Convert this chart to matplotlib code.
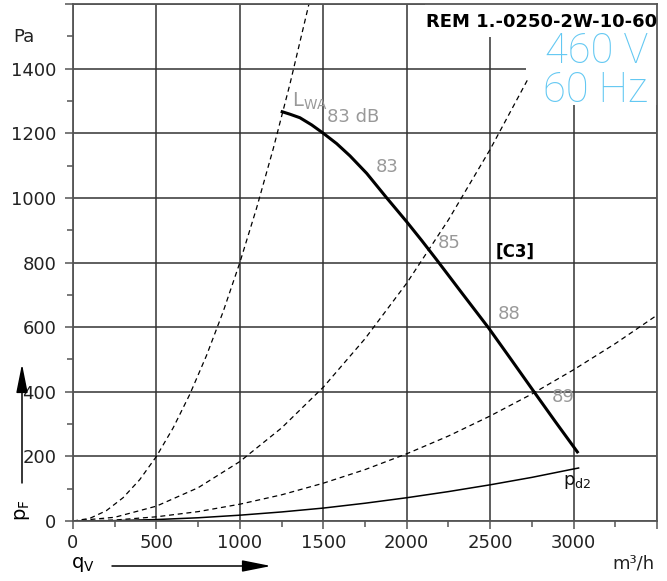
#!/usr/bin/env python3
"""Fan curve chart: REM 1.-0250-2W-10-60, 460 V / 60 Hz."""
import matplotlib
matplotlib.use("Agg")
import matplotlib.pyplot as plt
from matplotlib.patches import Rectangle

W, H = 667, 581

# main fan curve (p_F over q_V)
fan_q = [1245, 1300, 1360, 1430, 1500, 1580, 1660, 1760, 1880, 2000, 2090, 2180,
         2330, 2490, 2620, 2760, 2890, 3028]
fan_p = [1268, 1259, 1248, 1226, 1200, 1168, 1130, 1076, 1000, 926, 868, 808,
         706, 598, 504, 402, 308, 210]

# system parabolas (dashed)
sys1_q = [0, 100, 200, 300, 400, 500, 600, 700, 800, 900, 1000, 1100, 1200, 1300, 1414]
sys1_p = [0, 8, 32, 72, 128, 200, 288, 392, 512, 648, 800, 968, 1152, 1352, 1600]
sys2_q = [0, 250, 500, 750, 1000, 1250, 1500, 1750, 2000, 2250, 2500, 2730]
sys2_p = [0, 11.5, 46, 103, 184, 288, 414, 564, 736, 932, 1150, 1371]
sys3_q = [0, 250, 500, 750, 1000, 1250, 1500, 1750, 2000, 2250, 2500, 2750, 3000, 3250, 3500]
sys3_p = [0, 3, 13, 29, 52, 81, 117, 159, 208, 263, 325, 393, 468, 549, 637]

# dynamic pressure p_d2
pd2_q = [0, 250, 500, 750, 1000, 1250, 1500, 1750, 2000, 2250, 2500, 2750, 3000, 3030]
pd2_p = [0, 1.1, 4.5, 10, 18, 28, 40, 55, 72, 91, 112, 135, 161, 164]

# sound power labels on the curve
lwa_labels = ["83", "85", "88", "89"]
lwa_q = [1812, 2184, 2544, 2868]
lwa_p = [1080, 845, 625, 368]

x_ticks = [0, 500, 1000, 1500, 2000, 2500, 3000, 3500]
x_labels = ["0", "500", "1000", "1500", "2000", "2500", "3000", ""]
y_ticks = [0, 200, 400, 600, 800, 1000, 1200, 1400, 1600]
y_labels = ["0", "200", "400", "600", "800", "1000", "1200", "1400", ""]

GRAY = "#999999"
BLUE = "#63C8F2"

plt.rcParams["font.family"] = ["DejaVu Sans"]
plt.rcParams["mathtext.default"] = "regular"

fig = plt.figure(figsize=(W / 100, H / 100), dpi=100)
ax = fig.add_axes([73 / W, 1 - 521 / H, (657 - 73) / W, (521 - 4) / H])
ax.set_xlim(0, 3500)
ax.set_ylim(0, 1600)


def fpx(x, y):
    return x / W, 1 - y / H


# grid
ax.set_axisbelow(True)
ax.grid(True, which="major", color="#333333", lw=1.1)
ax.set_xticks(x_ticks)
ax.set_xticklabels(x_labels)
ax.set_yticks(y_ticks)
ax.set_yticklabels(y_labels)
ax.set_xticks(range(250, 3500, 500), minor=True)
ax.set_yticks(range(100, 1600, 200), minor=True)
ax.tick_params(axis="both", which="major", length=6, width=1.1, color="#555555",
               labelsize=13, labelcolor="#222222")
ax.tick_params(axis="both", which="minor", length=4, width=1.1, color="#555555")
ax.tick_params(axis="x", which="major", pad=3)
ax.tick_params(axis="y", which="major", pad=6)
for s in ax.spines.values():
    s.set_color("#555555")
    s.set_linewidth(1.3)
    s.set_zorder(10)

# white areas behind the header text
ax.add_patch(Rectangle((2110, 1498), 1390, 102, facecolor="white", edgecolor="none", zorder=1.5))
ax.add_patch(Rectangle((2712, 1288), 788, 212, facecolor="white", edgecolor="none", zorder=1.5))

# curves
for q, p in [(sys1_q, sys1_p), (sys2_q, sys2_p), (sys3_q, sys3_p)]:
    ax.plot(q, p, color="black", lw=0.9, dashes=(4, 3), zorder=3)
ax.plot(pd2_q, pd2_p, color="black", lw=1.1, zorder=3)
ax.plot(fan_q, fan_p, color="black", lw=2.2, solid_capstyle="butt",
        solid_joinstyle="round", zorder=4)

# labels in the plot
ax.text(1314, 1282, r"$L_{WA}$", color=GRAY, fontsize=14, zorder=5)
ax.text(1524, 1235, "83 dB", color=GRAY, fontsize=13, zorder=5)
for lab, q, p in zip(lwa_labels, lwa_q, lwa_p):
    ax.text(q, p, lab, color=GRAY, fontsize=13, zorder=5)
ax.text(2532, 817, "[C3]", color="black", fontsize=12, fontweight="bold", zorder=5)
ax.text(2938, 111, r"$p_{d2}$", color="#111111", fontsize=13, zorder=5)

# header
fig.text(*fpx(657, 27), "REM 1.-0250-2W-10-60", ha="right", va="baseline",
         fontsize=13, fontweight="bold", color="black")
fig.text(*fpx(648, 63), "460 V", ha="right", va="baseline", fontsize=30,
         color=BLUE, family=["Roboto", "DejaVu Sans"], fontweight="light")
fig.text(*fpx(648, 102), "60 Hz", ha="right", va="baseline", fontsize=30,
         color=BLUE, family=["Roboto", "DejaVu Sans"], fontweight="light")

# axis captions
fig.text(*fpx(13, 42), "Pa", ha="left", va="baseline", fontsize=13, color="#222222")
fig.text(*fpx(655, 568), "m³/h", ha="right", va="baseline", fontsize=13, color="#222222")
fig.text(*fpx(71, 568), r"$q_V$", ha="left", va="baseline", fontsize=14, color="black")
fig.text(*fpx(13, 521), r"$p_F$", ha="left", va="bottom", rotation=90,
         fontsize=14, color="black")

arrow = dict(arrowstyle="-|>,head_length=1.1,head_width=0.22", color="black",
             lw=1.1, mutation_scale=16, shrinkA=0, shrinkB=0)
ax.annotate("", xy=fpx(271, 566), xytext=fpx(112, 566),
            xycoords="figure fraction", textcoords="figure fraction",
            arrowprops=arrow, annotation_clip=False)
ax.annotate("", xy=fpx(22, 364), xytext=fpx(22, 483),
            xycoords="figure fraction", textcoords="figure fraction",
            arrowprops=arrow, annotation_clip=False)

fig.savefig("out.png", dpi=100)
